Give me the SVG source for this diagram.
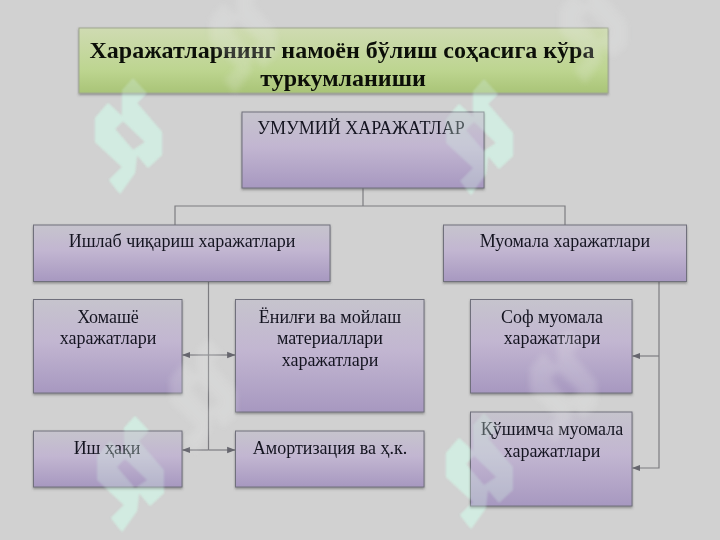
<svg xmlns="http://www.w3.org/2000/svg" width="720" height="540" viewBox="0 0 720 540">
<style>
text{font-family:"Liberation Serif","Times New Roman",serif;font-size:18px;fill:#141420;text-anchor:middle}
.t{font-size:24px;font-weight:bold;fill:#0c0f08}
.b{fill:url(#p);stroke:#70707c;stroke-width:1;filter:url(#s)}
.c{fill:none;stroke:#7c7c80;stroke-width:1.2}
.w{fill:#d2efe3;fill-rule:evenodd;filter:url(#soft)}
.f{fill:#eceeed;fill-rule:evenodd;filter:url(#soft2)}
</style>
<defs>
<linearGradient id="p" x1="0" y1="0" x2="0" y2="1"><stop offset="0" stop-color="#c6c4cd"/><stop offset=".45" stop-color="#c2b6d1"/><stop offset="1" stop-color="#a798c0"/></linearGradient>
<linearGradient id="g" x1="0" y1="0" x2="0" y2="1"><stop offset="0" stop-color="#cfdbb2"/><stop offset=".65" stop-color="#bdd590"/><stop offset="1" stop-color="#a9c477"/></linearGradient>
<filter id="s" x="-5%" y="-5%" width="110%" height="115%"><feDropShadow dx="0" dy="1.5" stdDeviation="1" flood-color="#555" flood-opacity=".55"/></filter>
<filter id="soft"><feGaussianBlur stdDeviation=".8"/></filter>
<filter id="soft2"><feGaussianBlur stdDeviation="3"/></filter>
<marker id="a" viewBox="0 0 8 8" refX="7.500" refY="4" markerWidth="7" markerHeight="7" orient="auto"><path d="M0 1L8 4L0 7Z" fill="#66666e"/></marker>
<path id="wm" d="M3-57L17-42L7-32L32-3V20L18 33L7 20L5 38L-10 59L-21 45L-8 32L-35 7V-17L-22-32L-8-19V-45ZM-7-14L15 7L3 15L-15-6Z"/>
</defs>
<rect width="720" height="540" fill="#d1d1d1"/>
<g id="watermarks-back" class="w" opacity=".85">
<use href="#wm" x="130" y="135"/>
<use href="#wm" x="481" y="136"/>
<use href="#wm" x="132" y="473"/>
<use href="#wm" x="481" y="470"/>
</g>
<g id="connectors">
<path class="c" d="M363 188V206M175 225V206H565V225"/>
<path class="c" d="M208.500 282V450"/>
<path class="c" d="M208.500 355H182.500" marker-end="url(#a)"/>
<path class="c" d="M208.500 355H235" marker-end="url(#a)"/>
<path class="c" d="M208.500 450H182.500" marker-end="url(#a)"/>
<path class="c" d="M208.500 450H235" marker-end="url(#a)"/>
<path class="c" d="M659 282V468H632.500" marker-end="url(#a)"/>
<path class="c" d="M659 356H632.500" marker-end="url(#a)"/>
</g>
<g id="title"><rect x="79" y="28" width="529" height="65" fill="url(#g)" stroke="#a0a890" filter="url(#s)"/>
<text class="t" x="342" y="58">Харажатларнинг намоён бўлиш соҳасига кўра</text>
<text class="t" x="343" y="86">туркумланиши</text></g>
<g id="n-total"><rect class="b" x="242" y="112" width="242" height="76"/><text x="361" y="134">УМУМИЙ ХАРАЖАТЛАР</text></g>
<g id="n-prod"><rect class="b" x="33.500" y="225" width="296.500" height="56.500"/><text x="182" y="247">Ишлаб чиқариш харажатлари</text></g>
<g id="n-circ"><rect class="b" x="443.500" y="225" width="243" height="56.500"/><text x="565" y="247">Муомала харажатлари</text></g>
<g id="n-raw"><rect class="b" x="33.500" y="299.500" width="148.500" height="93.500"/><text x="108" y="323">Хомашё</text><text x="108" y="344">харажатлари</text></g>
<g id="n-fuel"><rect class="b" x="235.500" y="299.500" width="188.500" height="112.500"/><text x="330" y="323">Ёнилғи ва мойлаш</text><text x="330" y="344">материаллари</text><text x="330" y="366">харажатлари</text></g>
<g id="n-wage"><rect class="b" x="33.500" y="431" width="148.500" height="56"/><text x="107" y="454">Иш ҳақи</text></g>
<g id="n-amort"><rect class="b" x="235.500" y="431" width="188.500" height="56"/><text x="330" y="454">Амортизация ва ҳ.к.</text></g>
<g id="n-net"><rect class="b" x="470.500" y="299.500" width="161.500" height="93.500"/><text x="552" y="323">Соф муомала</text><text x="552" y="344">харажатлари</text></g>
<g id="n-extra"><rect class="b" x="470.500" y="412" width="161.500" height="94"/><text x="552" y="435">Қўшимча муомала</text><text x="552" y="457">харажатлари</text></g>
<g id="watermarks-front" class="w" opacity=".32">
<use href="#wm" x="130" y="135"/>
<use href="#wm" x="481" y="136"/>
<use href="#wm" x="132" y="473"/>
<use href="#wm" x="481" y="470"/>
</g>
<g id="watermarks-faint" class="f" opacity=".2">
<use href="#wm" x="205" y="395"/>
<use href="#wm" x="565" y="385"/>
<use href="#wm" x="245" y="35"/>
<use href="#wm" x="595" y="25"/>
</g>
</svg>
